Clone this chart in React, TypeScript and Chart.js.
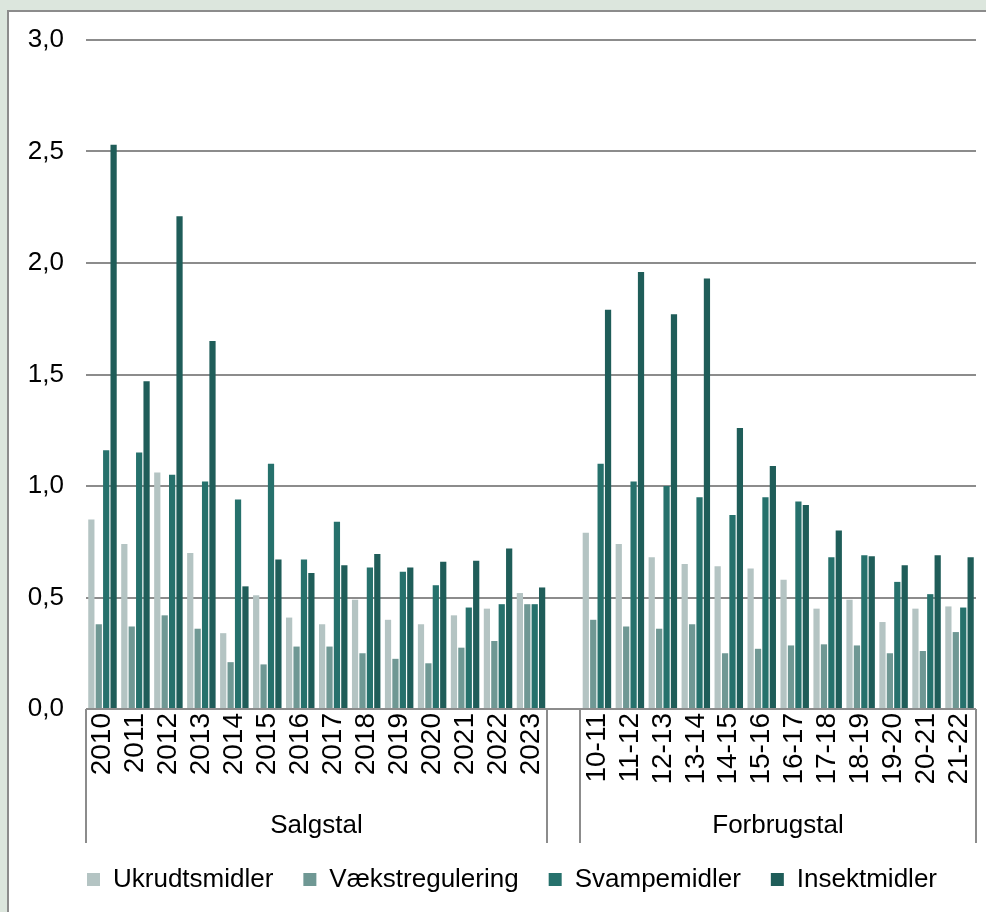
import React, { useEffect, useRef } from "react";
import { Chart, registerables } from "chart.js";

Chart.register(...registerables);

const categories = [
  "2010", "2011", "2012", "2013", "2014", "2015", "2016", "2017", "2018", "2019", "2020", "2021", "2022", "2023",
  "",
  "10-11", "11-12", "12-13", "13-14", "14-15", "15-16", "16-17", "17-18", "18-19", "19-20", "20-21", "21-22",
];

const ukrudtsmidler = [
  0.85, 0.74, 1.06, 0.70, 0.34, 0.51, 0.41, 0.38, 0.49, 0.40, 0.38, 0.42, 0.45, 0.52,
  null,
  0.79, 0.74, 0.68, 0.65, 0.64, 0.63, 0.58, 0.45, 0.49, 0.39, 0.45, 0.46,
];
const vaekstregulering = [
  0.38, 0.37, 0.42, 0.36, 0.21, 0.20, 0.28, 0.28, 0.25, 0.225, 0.205, 0.275, 0.305, 0.47,
  null,
  0.40, 0.37, 0.36, 0.38, 0.25, 0.27, 0.285, 0.29, 0.285, 0.25, 0.26, 0.345,
];
const svampemidler = [
  1.16, 1.15, 1.05, 1.02, 0.94, 1.10, 0.67, 0.84, 0.635, 0.615, 0.555, 0.455, 0.47, 0.47,
  null,
  1.10, 1.02, 1.00, 0.95, 0.87, 0.95, 0.93, 0.68, 0.69, 0.57, 0.515, 0.455,
];
const insektmidler = [
  2.53, 1.47, 2.21, 1.65, 0.55, 0.67, 0.61, 0.645, 0.695, 0.635, 0.66, 0.665, 0.72, 0.545,
  null,
  1.79, 1.96, 1.77, 1.93, 1.26, 1.09, 0.915, 0.80, 0.685, 0.645, 0.69, 0.68,
];

const seriesNames = ["Ukrudtsmidler", "Vækstregulering", "Svampemidler", "Insektmidler"];
const groupLabels = ["Salgstal", "Forbrugstal"];
const groupRanges = [[0, 13], [15, 26]];

const FONT = '"Liberation Sans", Arial, sans-serif';

const groupPlugin = {
  id: "groupLabels",
  afterLayout(chart: any) {
    const lg = chart.legend;
    if (lg) {
      lg.left = 48;
      lg.right = 976;
      lg.width = 928;
    }
  },
  afterDraw(chart: any) {
    const { ctx, chartArea } = chart;
    const x = chart.scales.x;
    const step = x.getPixelForValue(1) - x.getPixelForValue(0);
    ctx.save();
    ctx.strokeStyle = "#8c8c8c";
    ctx.lineWidth = 2;
    ctx.fillStyle = "#000";
    ctx.font = `26px ${FONT}`;
    ctx.textAlign = "center";
    ctx.textBaseline = "middle";
    groupRanges.forEach(([a, b], i) => {
      const left = Math.round(x.getPixelForValue(a) - step / 2);
      const right = Math.round(x.getPixelForValue(b) + step / 2);
      [left, right].forEach((px) => {
        ctx.beginPath();
        ctx.moveTo(px, chartArea.bottom);
        ctx.lineTo(px, chartArea.bottom + 134);
        ctx.stroke();
      });
      ctx.fillText(groupLabels[i], (left + right) / 2, chartArea.bottom + 117);
    });
    ctx.restore();
  },
};

export default function App() {
  const ref = useRef<HTMLCanvasElement>(null);

  useEffect(() => {
    if (!ref.current) return;
    const colors = ["#b4c4c3", "#6f9894", "#26716c", "#1f5d59"];
    const values = [ukrudtsmidler, vaekstregulering, svampemidler, insektmidler];
    const chart = new Chart(ref.current, {
      type: "bar",
      data: {
        labels: categories,
        datasets: values.map((d, i) => ({
          label: seriesNames[i],
          data: d,
          backgroundColor: colors[i],
          borderWidth: 0,
          categoryPercentage: 0.9,
          barPercentage: 0.84,
        })),
      },
      options: {
        responsive: false,
        animation: false,
        layout: { autoPadding: false, padding: { left: 0, right: 10, top: 40, bottom: 9.5 } },
        plugins: {
          legend: {
            position: "bottom",
            labels: {
              boxWidth: 13,
              boxHeight: 13,
              padding: 30,
              color: "#000",
              font: { size: 26, family: FONT },
            },
          },
          tooltip: { enabled: false },
        },
        scales: {
          x: {
            grid: { display: false, drawTicks: false },
            border: { display: false },
            ticks: {
              autoSkip: false,
              minRotation: 90,
              maxRotation: 90,
              padding: 4,
              color: "#000",
              font: { size: 28, family: FONT },
            },
            afterFit(scale: any) {
              scale.height = 127.5;
              scale.paddingLeft = 0;
              scale.paddingRight = 0;
            },
          },
          y: {
            min: 0,
            max: 3,
            grid: { color: "#8c8c8c", lineWidth: 2, drawTicks: false },
            border: { display: false },
            ticks: {
              stepSize: 0.5,
              padding: 22,
              color: "#000",
              font: { size: 26, family: FONT },
              callback: (v: any) => Number(v).toFixed(1).replace(".", ","),
            },
            afterFit(scale: any) {
              scale.width = 86;
              scale.paddingTop = 0;
              scale.paddingBottom = 0;
            },
          },
        },
      },
      plugins: [groupPlugin],
    });
    return () => chart.destroy();
  }, []);

  return (
    <div style={{ position: "fixed", inset: 0, background: "#dce6dd", overflow: "hidden" }}>
      <div
        style={{
          position: "absolute",
          left: 7,
          top: 10,
          right: -10,
          bottom: -10,
          background: "#fff",
          borderLeft: "2px solid #8c8c8c",
          borderTop: "2px solid #8c8c8c",
        }}
      />
      <canvas
        ref={ref}
        width={986}
        height={912}
        style={{ position: "absolute", left: 0, top: 0, width: 986, height: 912 }}
      />
    </div>
  );
}
